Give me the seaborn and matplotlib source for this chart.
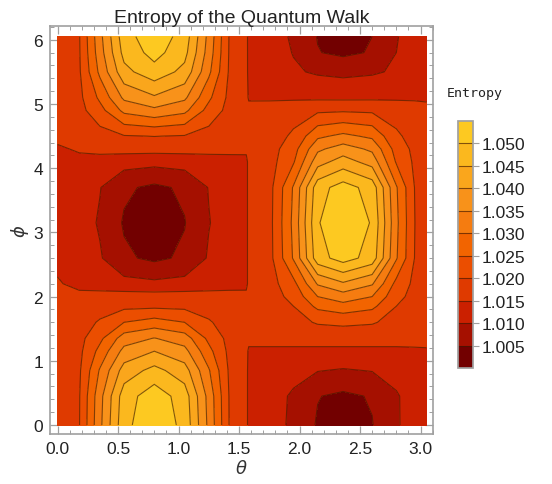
import numpy as np
import matplotlib
matplotlib.use("Agg")
import matplotlib.pyplot as plt
from matplotlib.ticker import MultipleLocator, FormatStrFormatter
import seaborn as sns

# grid (theta columns, phi rows)
theta = [0.0, 0.18, 0.35, 0.55, 0.8, 1.05, 1.25, 1.42, 1.56,
         1.58, 1.75, 1.95, 2.15, 2.36, 2.6, 2.8, 2.95, 3.05]
phi = [0.0, 0.45, 0.85, 1.15, 1.35, 1.6, 1.85, 2.0, 2.2, 2.6,
       3.15, 3.7, 4.1, 4.3, 4.5, 4.9, 5.1, 5.5, 5.8, 6.05]

# theta < pi/2
entropy_left = [
    [1.0172, 1.0198, 1.0338, 1.0485, 1.0540, 1.0485, 1.0338, 1.0198, 1.0172],
    [1.0172, 1.0197, 1.0333, 1.0476, 1.0529, 1.0476, 1.0333, 1.0197, 1.0172],
    [1.0172, 1.0193, 1.0305, 1.0422, 1.0466, 1.0422, 1.0305, 1.0193, 1.0172],
    [1.0172, 1.0188, 1.0265, 1.0366, 1.0400, 1.0366, 1.0265, 1.0188, 1.0172],
    [1.0172, 1.0185, 1.0238, 1.0325, 1.0352, 1.0325, 1.0238, 1.0185, 1.0172],
    [1.0172, 1.0179, 1.0205, 1.0250, 1.0271, 1.0250, 1.0205, 1.0179, 1.0172],
    [1.0172, 1.0173, 1.0180, 1.0188, 1.0190, 1.0188, 1.0180, 1.0173, 1.0172],
    [1.0172, 1.0172, 1.0172, 1.0172, 1.0172, 1.0172, 1.0172, 1.0172, 1.0172],
    [1.0158, 1.0127, 1.0123, 1.0117, 1.0111, 1.0117, 1.0123, 1.0127, 1.0128],
    [1.0128, 1.0125, 1.0105, 1.0058, 1.0040, 1.0058, 1.0105, 1.0125, 1.0128],
    [1.0128, 1.0122, 1.0095, 1.0045, 1.0012, 1.0048, 1.0098, 1.0122, 1.0128],
    [1.0128, 1.0124, 1.0102, 1.0058, 1.0040, 1.0058, 1.0102, 1.0124, 1.0128],
    [1.0128, 1.0127, 1.0125, 1.0120, 1.0115, 1.0120, 1.0125, 1.0127, 1.0128],
    [1.0138, 1.0160, 1.0168, 1.0168, 1.0168, 1.0168, 1.0168, 1.0168, 1.0168],
    [1.0172, 1.0174, 1.0180, 1.0197, 1.0201, 1.0197, 1.0180, 1.0174, 1.0172],
    [1.0172, 1.0184, 1.0232, 1.0313, 1.0338, 1.0313, 1.0232, 1.0184, 1.0172],
    [1.0172, 1.0188, 1.0260, 1.0360, 1.0393, 1.0360, 1.0260, 1.0188, 1.0172],
    [1.0172, 1.0194, 1.0311, 1.0435, 1.0481, 1.0435, 1.0311, 1.0194, 1.0172],
    [1.0172, 1.0196, 1.0328, 1.0466, 1.0518, 1.0466, 1.0328, 1.0196, 1.0172],
    [1.0172, 1.0197, 1.0335, 1.0479, 1.0533, 1.0479, 1.0335, 1.0197, 1.0172],
]

# theta > pi/2
entropy_right = [
    [1.0128, 1.0122, 1.0090, 1.0045, 1.0015, 1.0048, 1.0095, 1.0120, 1.0127],
    [1.0128, 1.0124, 1.0092, 1.0052, 1.0040, 1.0054, 1.0095, 1.0122, 1.0127],
    [1.0129, 1.0127, 1.0118, 1.0102, 1.0096, 1.0102, 1.0118, 1.0127, 1.0128],
    [1.0138, 1.0138, 1.0138, 1.0138, 1.0138, 1.0138, 1.0138, 1.0140, 1.0142],
    [1.0172, 1.0172, 1.0172, 1.0172, 1.0172, 1.0172, 1.0172, 1.0172, 1.0172],
    [1.0172, 1.0173, 1.0186, 1.0204, 1.0209, 1.0204, 1.0186, 1.0175, 1.0172],
    [1.0172, 1.0175, 1.0200, 1.0262, 1.0282, 1.0262, 1.0200, 1.0181, 1.0172],
    [1.0172, 1.0177, 1.0215, 1.0300, 1.0327, 1.0300, 1.0215, 1.0184, 1.0172],
    [1.0172, 1.0179, 1.0235, 1.0355, 1.0393, 1.0355, 1.0235, 1.0189, 1.0172],
    [1.0172, 1.0182, 1.0305, 1.0480, 1.0522, 1.0480, 1.0305, 1.0200, 1.0172],
    [1.0172, 1.0183, 1.0312, 1.0496, 1.0540, 1.0496, 1.0312, 1.0201, 1.0172],
    [1.0172, 1.0182, 1.0305, 1.0480, 1.0522, 1.0480, 1.0305, 1.0200, 1.0172],
    [1.0172, 1.0179, 1.0245, 1.0380, 1.0422, 1.0380, 1.0245, 1.0192, 1.0172],
    [1.0172, 1.0178, 1.0230, 1.0340, 1.0374, 1.0340, 1.0230, 1.0188, 1.0172],
    [1.0172, 1.0176, 1.0208, 1.0290, 1.0312, 1.0290, 1.0208, 1.0183, 1.0172],
    [1.0172, 1.0173, 1.0180, 1.0191, 1.0194, 1.0191, 1.0180, 1.0174, 1.0165],
    [1.0142, 1.0142, 1.0142, 1.0141, 1.0140, 1.0141, 1.0142, 1.0142, 1.0142],
    [1.0130, 1.0127, 1.0106, 1.0094, 1.0088, 1.0094, 1.0106, 1.0126, 1.0129],
    [1.0129, 1.0124, 1.0098, 1.0052, 1.0040, 1.0054, 1.0100, 1.0122, 1.0128],
    [1.0128, 1.0123, 1.0093, 1.0048, 1.0022, 1.0050, 1.0097, 1.0121, 1.0127],
]

contour_levels = [1.005, 1.010, 1.015, 1.020, 1.025, 1.030, 1.035, 1.040, 1.045, 1.050]
band_colors = ["#720000", "#a51000", "#cb2000", "#df3a00", "#eb4e00", "#f26400",
               "#f57c10", "#f8921a", "#faa61c", "#fbb81e", "#fdc921"]

Z = np.hstack([np.array(entropy_left), np.array(entropy_right)])
fill_levels = [1.000] + contour_levels + [1.055]

sns.set_theme(style="ticks")
plt.rcParams['font.family'] = ['Liberation Sans', 'DejaVu Sans']

fig = plt.figure(figsize=(5.52, 4.85), dpi=100)
ax = fig.add_axes([50/552, 50/485, 383/552, 408/485])

cf = ax.contourf(theta, phi, Z, levels=fill_levels, colors=band_colors)
line_col = (0.25, 0.1, 0.0, 0.65)
ax.contour(theta, phi, Z, levels=contour_levels, colors=[line_col], linewidths=0.8)

ax.set_xlim(-0.062, 3.103)
ax.set_ylim(-0.14, 6.215)
ax.xaxis.set_major_locator(MultipleLocator(0.5))
ax.xaxis.set_minor_locator(MultipleLocator(0.1))
ax.yaxis.set_major_locator(MultipleLocator(1))
ax.yaxis.set_minor_locator(MultipleLocator(0.2))
ax.xaxis.set_major_formatter(FormatStrFormatter('%.1f'))
ax.tick_params(which='both', direction='in', top=True, right=True, color='#a0a0a0',
               labelsize=12.5, labelcolor='#222222', pad=5)
ax.tick_params(which='major', length=6, width=0.9)
ax.tick_params(which='minor', length=3, width=0.7)
for s in ax.spines.values():
    s.set_color('#a0a0a0')
    s.set_linewidth(1.2)

ax.set_title("Entropy of the Quantum Walk", fontsize=14, color='#222222', pad=3)
ax.set_xlabel(r"$\theta$", fontsize=13, color='#333333', labelpad=2)
ax.set_ylabel(r"$\phi$", fontsize=13, color='#333333', labelpad=2)

cax = fig.add_axes([458/552, (485-369)/485, 15/552, 247/485])
cb = fig.colorbar(cf, cax=cax, ticks=contour_levels)
cb.ax.yaxis.set_major_formatter(FormatStrFormatter('%.3f'))
cb.ax.tick_params(length=4, width=0.8, color='#a0a0a0', labelsize=12.5,
                  labelcolor='#222222', pad=2)
cb.ax.minorticks_off()
cb.outline.set_edgecolor('#a0a0a0')
for lv in contour_levels:
    cax.axhline(lv, color=line_col, lw=0.8)

fig.text(475/552, 1 - 93/485, "Entropy", family='DejaVu Sans Mono', fontsize=9.5,
         ha='center', va='center', color='#222222')

fig.savefig("out.png", dpi=100)
